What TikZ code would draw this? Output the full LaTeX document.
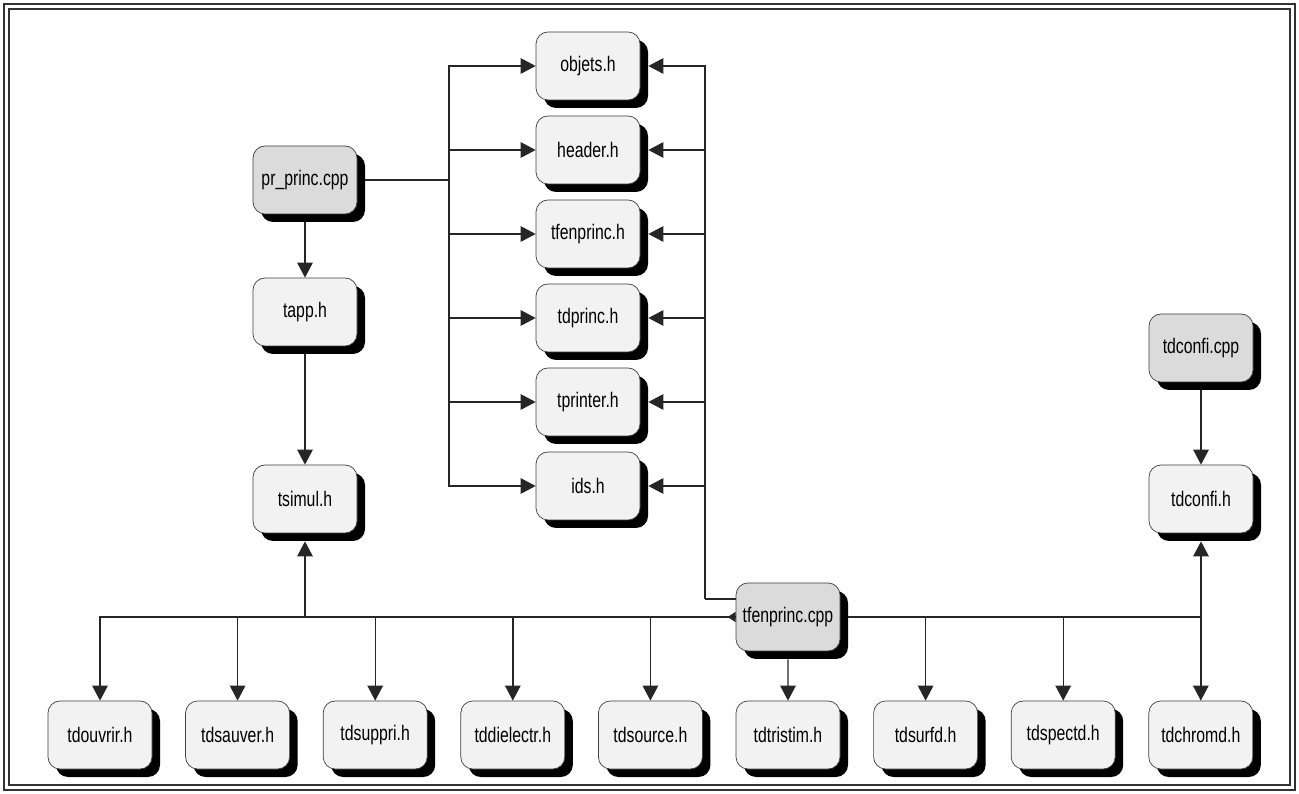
\documentclass[tikz,border=0pt]{standalone}
\usepackage{fontspec}
\setsansfont{Liberation Sans}[FakeStretch=0.75]
\usetikzlibrary{arrows.meta,shadows,calc}
\tikzset{
  file/.style={rectangle, rounded corners=2.4mm, draw=black!75, thin,
               minimum width=20.8mm, minimum height=13.6mm, inner sep=0pt,
               font=\sffamily\fontsize{12}{14}\selectfont,
               drop shadow={shadow xshift=1.6mm, shadow yshift=-1.6mm, fill=black, opacity=1}},
  hfile/.style={file, fill=gray!10},
  cfile/.style={file, fill=gray!28},
  link/.style={draw=black!85, line width=0.8pt},
  inc/.style={link, -{Triangle[length=3mm, width=3.1mm]}},
}
\begin{document}
\begin{tikzpicture}[x=0.2mm, y=-0.2mm]
  \useasboundingbox (0,0) rectangle (1299,794);
  \draw[line width=1.6pt, black!80] (4,4) rectangle (1295,790);
  \draw[line width=0.8pt, black!80] (9,9) rectangle (1290,785);

  % included headers
  \node[hfile] (objets) at (588,66) {objets.h};
  \node[hfile] (header) at (588,150) {header.h};
  \node[hfile] (tfenh) at (588,234) {tfenprinc.h};
  \node[hfile] (tdprinc) at (588,318) {tdprinc.h};
  \node[hfile] (tprinter) at (588,402) {tprinter.h};
  \node[hfile] (ids) at (588,486) {ids.h};

  \node[cfile] (prprinc) at (305,180) {pr\_princ.cpp};
  \node[hfile] (tapp) at (305,312) {tapp.h};
  \node[hfile] (tsimul) at (305,499) {tsimul.h};
  \node[cfile] (confcpp) at (1201,348) {tdconfi.cpp};
  \node[hfile] (confh) at (1201,499) {tdconfi.h};
  \node[cfile] (tfencpp) at (788,617) {tfenprinc.cpp};

  % bottom row
  \foreach \n [count=\i from 0] in {tdouvrir,tdsauver,tdsuppri,tddielectr,tdsource,tdtristim,tdsurfd,tdspectd,tdchromd}
    \node[hfile] (\n) at (100+\i*137.6,735) {\n.h};

  \coordinate (lbus) at (449,180);
  \coordinate (rbus) at (705,599);
  \draw[link, shorten <=1.6mm] (prprinc.east) -- (lbus);
  \draw[link] (rbus) -- (rbus -| tfencpp.west);
  \foreach \n in {objets,header,tfenh,tdprinc,tprinter,ids}{
    \draw[inc] (lbus) |- (\n.west);
    \draw[inc, shorten >=1.6mm] (rbus) |- (\n.east);
  }

  \draw[inc, shorten <=1.6mm] (prprinc.south) -- (tapp.north);
  \draw[inc, shorten <=1.6mm] (tapp.south) -- (tsimul.north);
  \draw[inc, shorten <=1.6mm] (confcpp.south) -- (confh.north);
  \draw[inc, shorten <=1.6mm] (tfencpp.south) -- (tdtristim.north);

  % bus of tfenprinc.cpp
  \foreach \n in {tdouvrir,tdsauver,tdsuppri,tddielectr,tdsource}
    \draw[inc] (tfencpp.west) -| (\n.north);
  \foreach \n in {tdsurfd,tdspectd,tdchromd}
    \draw[inc, shorten <=1.6mm] (tfencpp.east) -| (\n.north);
  \draw[inc, shorten >=1.6mm] (tfencpp.west) -| (tsimul.south);
  \draw[inc, shorten <=1.6mm, shorten >=1.6mm] (tfencpp.east) -| (confh.south);
  \draw[link, -{Triangle[reversed, length=1.6mm, width=2mm]}] ($(tfencpp.west)+(-10,0)$) -- (tfencpp.west);
\end{tikzpicture}
\end{document}
